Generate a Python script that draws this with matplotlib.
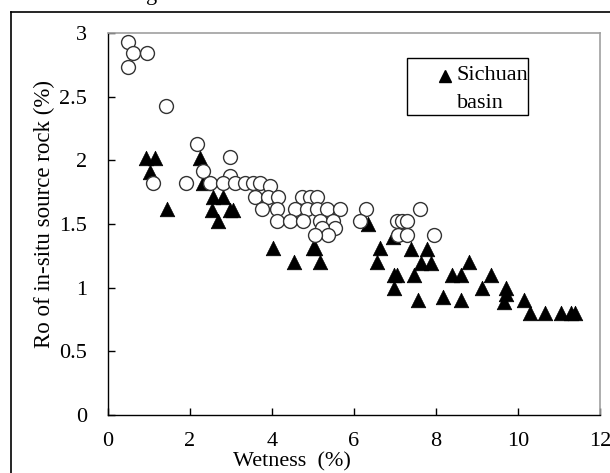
import matplotlib
matplotlib.use("Agg")
import matplotlib.pyplot as plt
from matplotlib.lines import Line2D
from matplotlib.patches import Rectangle

# Open circles (other samples)
circle_x = [0.48, 0.60, 0.94, 0.48, 1.41, 2.17, 2.98, 2.32, 2.98, 1.10,
            1.90, 2.49, 2.80, 3.10, 3.34, 3.54, 3.70, 3.95, 3.58, 3.90,
            4.15, 4.73, 4.93, 5.10, 3.75, 4.12, 4.56, 4.85, 5.10, 5.34,
            5.66, 4.12, 4.44, 4.76, 5.17, 5.49, 5.53, 5.22, 5.37, 5.05,
            6.30, 6.15, 7.05, 7.17, 7.29, 7.07, 7.29, 7.60, 7.95]
circle_y = [2.93, 2.84, 2.84, 2.73, 2.43, 2.13, 2.03, 1.92, 1.88, 1.82,
            1.82, 1.82, 1.82, 1.82, 1.82, 1.82, 1.82, 1.80, 1.71, 1.71,
            1.71, 1.71, 1.71, 1.71, 1.62, 1.62, 1.62, 1.62, 1.62, 1.62,
            1.62, 1.52, 1.52, 1.52, 1.52, 1.52, 1.47, 1.47, 1.41, 1.41,
            1.62, 1.52, 1.52, 1.52, 1.52, 1.41, 1.41, 1.62, 1.41]

# Filled triangles (Sichuan basin)
sichuan_x = [0.93, 1.15, 1.02, 1.44, 2.24, 2.32, 2.56, 2.80, 2.54, 2.98,
             3.05, 2.68, 4.02, 4.54, 5.00, 5.05, 5.17, 6.34, 6.95, 6.56,
             6.63, 6.98, 7.05, 6.98, 7.39, 7.46, 7.56, 7.63, 7.78, 7.88,
             8.17, 8.40, 8.60, 8.60, 8.80, 9.12, 9.34, 9.70, 9.70, 9.66,
             10.15, 10.30, 10.65, 11.05, 11.30, 11.40]
sichuan_y = [2.02, 2.02, 1.91, 1.62, 2.02, 1.82, 1.71, 1.71, 1.61, 1.61,
             1.61, 1.52, 1.31, 1.20, 1.31, 1.31, 1.20, 1.50, 1.40, 1.20,
             1.31, 1.10, 1.10, 1.00, 1.30, 1.10, 0.90, 1.19, 1.30, 1.19,
             0.93, 1.10, 1.10, 0.90, 1.20, 1.00, 1.10, 1.00, 0.95, 0.89,
             0.90, 0.80, 0.80, 0.80, 0.80, 0.80]

x_ticks = [0, 2, 4, 6, 8, 10, 12]
y_ticks = [0, 0.5, 1, 1.5, 2, 2.5, 3]
y_tick_labels = ['0', '0.5', '1', '1.5', '2', '2.5', '3']

plt.rcParams['font.family'] = ['Liberation Serif', 'DejaVu Serif']

W, H = 610, 473
fig = plt.figure(figsize=(W / 100, H / 100), dpi=100)

# outer frame (left and top edges visible)
fig.add_artist(Line2D([11 / W, 11 / W], [0, 1 - 12 / H], color='black', lw=1.2,
                      transform=fig.transFigure))
fig.add_artist(Line2D([11 / W, 1], [1 - 12 / H, 1 - 12 / H], color='black', lw=1.2,
                      transform=fig.transFigure))
# cut-off caption letter at the top
fig.text(146 / W, 1.0, 'g', fontsize=16, va='baseline', ha='left')

ax = fig.add_axes([108 / W, 1 - 415 / H, (600 - 108) / W, (415 - 33) / H])

ax.scatter(sichuan_x, sichuan_y, marker='^', s=110, color='black',
           edgecolors='black', linewidths=0.5, zorder=2)
ax.scatter(circle_x, circle_y, marker='o', s=100, facecolors='white',
           edgecolors='#333333', linewidths=1.0, zorder=3)

ax.set_xlim(0, 12)
ax.set_ylim(0, 3)
ax.set_xticks(x_ticks)
ax.set_yticks(y_ticks)
ax.set_yticklabels(y_tick_labels)
ax.tick_params(direction='in', length=5, width=1, labelsize=16)
ax.tick_params(axis='x', pad=12)
ax.tick_params(axis='y', pad=15)

for side in ['left', 'bottom']:
    ax.spines[side].set_color('black')
    ax.spines[side].set_linewidth(1)
for side in ['top', 'right']:
    ax.spines[side].set_color('#a0a0a0')
    ax.spines[side].set_linewidth(1.2)

# axis titles placed as in the original figure
fig.text(292 / W, 1 - 462 / H, 'Wetness  (%)', fontsize=16, ha='center', va='center')
fig.text(44 / W, 1 - 214 / H, 'Ro of in-situ source rock (%)', fontsize=16.5,
         rotation=90, ha='center', va='center')

# legend box
fig.add_artist(Rectangle((407 / W, 1 - 115 / H), (528 - 407) / W, (115 - 58) / H,
                         transform=fig.transFigure, facecolor='white',
                         edgecolor='black', lw=1))
fig.add_artist(Line2D([445 / W], [1 - 76 / H], marker='^', markersize=9,
                      color='black', lw=0, transform=fig.transFigure))
fig.text(456 / W, 1 - 75 / H, 'Sichuan', fontsize=16, ha='left', va='center')
fig.text(457 / W, 1 - 103 / H, 'basin', fontsize=16, ha='left', va='center')

fig.savefig('out.png', dpi=100)
